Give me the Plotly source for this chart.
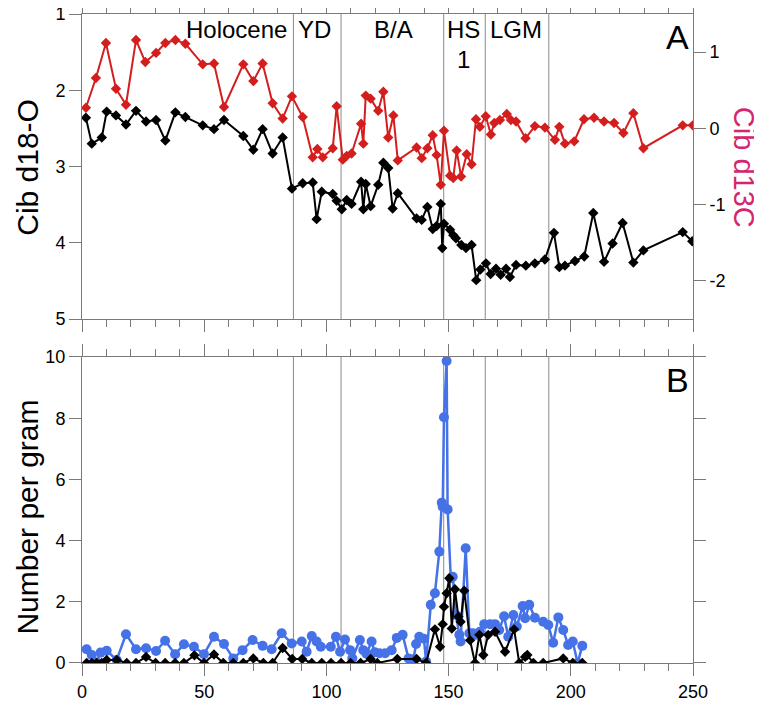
import plotly.graph_objects as go

# Panel A - benthic isotopes (x = age / depth axis 0-250)
d18o_x = [1.6, 4.0, 8.1, 10.1, 13.9, 18.0, 22.1, 26.2, 30.3, 34.1, 38.2, 42.3, 49.4, 54.0, 58.1,
          66.0, 70.1, 73.9, 78.0, 82.1, 85.9, 90.3, 94.4, 96.0, 98.1, 102.6, 104.2, 106.3, 108.3,
          110.3, 114.2, 115.1, 116.1, 118.1, 121.2, 123.3, 125.3, 127.1, 129.2, 136.9, 139.0,
          141.3, 143.5, 145.1, 146.8, 147.4, 148.1, 150.6, 151.9, 153.0, 155.2, 157.1, 159.4,
          161.3, 163.0, 165.3, 167.2, 169.4, 171.3, 173.5, 175.1, 177.6, 181.6, 185.3, 189.4,
          193.1, 195.3, 197.6, 201.7, 205.5, 209.2, 213.6, 217.1, 221.2, 225.6, 229.7, 245.8, 249.7]
d18o = [2.36, 2.70, 2.62, 2.28, 2.33, 2.45, 2.27, 2.41, 2.39, 2.66, 2.29, 2.35, 2.46, 2.51, 2.39,
        2.60, 2.78, 2.51, 2.83, 2.62, 3.29, 3.22, 3.21, 3.69, 3.33, 3.36, 3.45, 3.56, 3.44,
        3.49, 3.20, 3.56, 3.23, 3.52, 3.24, 2.95, 3.02, 3.55, 3.35, 3.68, 3.70,
        3.53, 3.82, 3.78, 3.49, 4.07, 3.75, 3.83, 3.90, 3.94, 4.03, 4.07, 4.03,
        4.49, 4.35, 4.27, 4.41, 4.34, 4.42, 4.34, 4.45, 4.29, 4.30, 4.27, 4.22,
        3.87, 4.32, 4.30, 4.24, 4.18, 3.61, 4.25, 4.01, 3.74, 4.26, 4.10, 3.86, 3.98]

d13c_x = [1.6, 5.7, 9.8, 13.9, 18.0, 22.1, 25.9, 30.3, 34.1, 38.2, 42.3, 49.4, 54.0, 58.1, 66.0,
          70.1, 73.9, 78.0, 82.1, 85.9, 90.3, 94.4, 96.3, 98.5, 102.6, 104.2, 106.7, 108.3, 110.3,
          114.2, 115.1, 116.1, 118.1, 121.2, 123.3, 125.3, 127.4, 129.2, 136.9, 139.0, 141.3,
          143.5, 145.1, 146.8, 148.1, 150.6, 151.9, 153.3, 155.1, 157.4, 159.4, 161.2, 162.8,
          165.2, 167.3, 168.7, 171.0, 173.8, 175.5, 177.6, 181.5, 185.3, 189.4, 193.5, 195.3,
          197.6, 201.4, 205.4, 209.5, 213.6, 217.7, 221.5, 225.6, 229.7, 245.8, 249.9]
d13c = [0.27, 0.66, 1.12, 0.52, 0.31, 1.16, 0.87, 0.99, 1.12, 1.16, 1.11, 0.84, 0.85, 0.28, 0.84,
        0.62, 0.85, 0.33, 0.13, 0.42, 0.15, -0.38, -0.27, -0.38, -0.26, 0.29, -0.41, -0.36, -0.33,
        0.06, -0.20, 0.43, 0.39, 0.23, 0.48, -0.12, 0.17, -0.42, -0.25, -0.39, -0.26,
        -0.09, -0.35, -0.74, -0.03, -0.62, -0.65, -0.29, -0.63, -0.34, -0.47, 0.12, 0.02,
        0.16, -0.08, 0.07, 0.11, 0.19, 0.11, 0.09, -0.13, 0.03, 0.01, -0.15, 0.02,
        -0.20, -0.17, 0.12, 0.14, 0.09, 0.07, -0.06, 0.20, -0.26, 0.04, 0.04]
d13c_ticks = [-2, -1, 0, 1]
d13c_ticktext = ["-2", "-1", "0", "1"]

# Panel B - abundances (number per gram)
black_x = [1.9, 4.0, 6.0, 8.1, 10.1, 14.2, 18.3, 22.1, 26.2, 30.1, 34.0, 38.1, 41.7, 46.0, 49.9,
           54.0, 57.8, 61.9, 66.0, 70.1, 74.2, 78.0, 82.1, 86.0, 90.1, 94.0, 98.1, 101.9, 106.0,
           109.9, 114.0, 118.1, 120.8, 129.0, 136.9, 140.8, 144.4, 146.5, 147.6, 148.1, 149.2,
           150.3, 151.3, 152.6, 154.0, 154.9, 156.4, 158.8, 160.8, 162.6, 164.2, 166.2, 169.0,
           173.1, 176.8, 178.9, 181.3, 182.2, 184.7, 188.7, 196.9, 200.8, 204.7]
black_n = [0, 0, 0, 0, 0.1, 0.1, 0, 0, 0.2, 0, 0, 0, 0, 0.25, 0,
           0.28, 0, 0, 0, 0.15, 0, 0, 0.49, 0.13, 0.13, 0, 0, 0, 0,
           0, 0, 0.13, 0, 0.13, 0.13, 0, 1.1, 0.53, 1.27, 1.84, 2.28,
           2.77, 1.13, 2.41, 1.51, 1.35, 2.36, 0.74, 0, 0.92, 0.26, 0.92, 1.02,
           0.37, 1.1, 0, 0.2, 0.26, 0, 0, 0.15, 0, 0]

blue_x = [1.9, 4.0, 6.0, 7.6, 10.1, 14.2, 18.0, 22.1, 26.2, 30.3, 34.0, 38.1, 41.7, 45.8, 49.9,
          54.0, 58.1, 61.9, 65.7, 69.8, 73.9, 77.6, 81.7, 85.8, 89.9, 91.9, 94.0, 96.0, 97.7,
          101.8, 103.9, 105.6, 107.6, 109.7, 110.6, 113.7, 115.1, 116.4, 118.5, 119.8, 121.7,
          124.0, 126.7, 128.8, 131.2, 133.6, 135.6, 136.7, 138.0, 139.9, 140.8, 142.7, 144.4,
          146.2, 147.2, 147.6, 148.1, 149.2, 149.6, 150.9, 151.7, 153.0, 154.4, 154.9, 157.0,
          158.5, 159.9, 161.2, 162.8, 164.6, 167.0, 169.0, 170.7, 172.7, 174.4, 176.5, 177.9,
          180.3, 181.3, 183.0, 185.3, 188.7, 190.8, 192.8, 194.9, 196.9, 198.9, 200.8, 202.8, 204.7]
blue_n = [0.45, 0.26, 0.02, 0.34, 0.40, 0.10, 0.94, 0.45, 0.48, 0.39, 0.73, 0.29, 0.61, 0.53, 0.29,
          0.86, 0.62, 0.15, 0.42, 0.75, 0.56, 0.45, 0.97, 0.64, 0.70, 0.37, 0.88, 0.70, 0.53,
          0.53, 0.86, 0.37, 0.77, 0.42, 0.15, 0.75, 0.42, 0.30, 0.70, 0.35, 0.32,
          0.32, 0.42, 0.82, 0.92, 0.15, 0.12, 0.62, 0.86, 0.79, 0.05, 1.90, 2.28,
          3.64, 5.24, 5.11, 8.03, 9.87, 5.02, 2.77, 2.82, 1.57, 0.92, 0.70, 3.75,
          0.97, 0.97, 0.92, 1.02, 1.27, 1.27, 1.27, 1.08, 1.53, 0.86, 1.57, 1.19,
          1.86, 1.46, 1.90, 1.48, 1.35, 1.24, 0.66, 1.49, 1.08, 0.59, 0.70, 0.00, 0.56]

# climate period boundaries and labels
boundaries = [86.5, 106, 148, 165, 191]
period_names = ["Holocene", "YD", "B/A", "HS", "1", "LGM"]
period_x = [63.4, 95.3, 127.3, 155.9, 155.9, 177.6]
period_y = [0.948, 0.948, 0.948, 0.948, 0.85, 0.948]

FONT = "Liberation Sans, Arial, sans-serif"
AX = "#7a7a7a"
RED = "#d41e1e"
BLUE = "#4672e8"
PINK = "#d3266e"

fig = go.Figure()

fig.add_trace(go.Scatter(x=d13c_x, y=d13c, xaxis="x2", yaxis="y3", mode="lines+markers",
                         line=dict(color=RED, width=2),
                         marker=dict(symbol="diamond", size=8, color=RED)))
fig.add_trace(go.Scatter(x=d18o_x, y=d18o, xaxis="x2", yaxis="y2", mode="lines+markers",
                         line=dict(color="black", width=2),
                         marker=dict(symbol="diamond", size=8, color="black")))
fig.add_trace(go.Scatter(x=blue_x, y=blue_n, xaxis="x", yaxis="y", mode="lines+markers",
                         line=dict(color=BLUE, width=2.5),
                         marker=dict(symbol="circle", size=10, color=BLUE)))
fig.add_trace(go.Scatter(x=black_x, y=black_n, xaxis="x", yaxis="y", mode="lines+markers",
                         line=dict(color="black", width=2),
                         marker=dict(symbol="diamond", size=8, color="black")))

# boundary lines in both panels
for b in boundaries:
    for xr, yr in [("x2", "y2 domain"), ("x", "y domain")]:
        fig.add_shape(type="line", xref=xr, yref=yr, x0=b, x1=b, y0=0, y1=1,
                      line=dict(color="#8a8a8a", width=1), layer="below")

ann = []
for name, px_, py_ in zip(period_names, period_x, period_y):
    ann.append(dict(text=name, x=px_, y=py_, xref="x2", yref="y2 domain", showarrow=False,
                    xanchor="center", yanchor="middle",
                    font=dict(size=24, color="black", family=FONT)))
ann.append(dict(text="A", x=0.975, y=0.925, xref="x2 domain", yref="y2 domain", showarrow=False,
                xanchor="center", yanchor="middle",
                font=dict(size=34, color="black", family=FONT)))
ann.append(dict(text="B", x=0.975, y=0.925, xref="x domain", yref="y domain", showarrow=False,
                xanchor="center", yanchor="middle",
                font=dict(size=34, color="black", family=FONT)))
ann.append(dict(text="Cib d18-O", x=-0.089, y=0.764, xref="paper", yref="paper", showarrow=False,
                xanchor="center", yanchor="middle",
                textangle=-90, font=dict(size=30, color="black", family=FONT)))
ann.append(dict(text="Number per gram", x=-0.089, y=0.225, xref="paper", yref="paper", showarrow=False,
                xanchor="center", yanchor="middle",
                textangle=-90, font=dict(size=30, color="black", family=FONT)))
ann.append(dict(text="Cib d13C", x=1.084, y=0.764, xref="paper", yref="paper", showarrow=False,
                xanchor="center", yanchor="middle",
                textangle=90, font=dict(size=29, color=PINK, family=FONT)))

tickfont = dict(size=18, color="black", family=FONT)
xcommon = dict(range=[0, 250], showgrid=False, zeroline=False, showline=True, linecolor=AX,
               linewidth=1, ticks="outside", ticklen=12, tickcolor=AX, dtick=50, mirror="ticks",
               automargin=False,
               minor=dict(dtick=10, ticks="outside", ticklen=7, tickcolor=AX))
ycommon = dict(showgrid=False, zeroline=False, showline=True, linecolor=AX, ticks="outside",
               ticklen=12, tickcolor=AX, tickfont=tickfont, automargin=False,
               ticklabeloverflow="allow")

# page body has an 8px default margin, so the figure is 8px smaller and shifted
fig.update_layout(
    width=754, height=694,
    margin=dict(l=74, r=69, t=6, b=39),
    plot_bgcolor="white", paper_bgcolor="white",
    showlegend=False,
    font=dict(family=FONT),
    xaxis=dict(anchor="y", tickfont=tickfont, **xcommon),
    xaxis2=dict(anchor="y2", showticklabels=False, **xcommon),
    yaxis=dict(domain=[0, 0.4715], range=[0, 10], dtick=2, mirror="ticks", **ycommon),
    yaxis2=dict(domain=[0.53, 1], range=[5, 1], dtick=1, anchor="x2", **ycommon),
    yaxis3=dict(overlaying="y2", side="right", anchor="x2", range=[-2.5, 1.5],
                tickvals=d13c_ticks, ticktext=d13c_ticktext, **ycommon),
    annotations=ann,
)

fig.write_html("out.html")
